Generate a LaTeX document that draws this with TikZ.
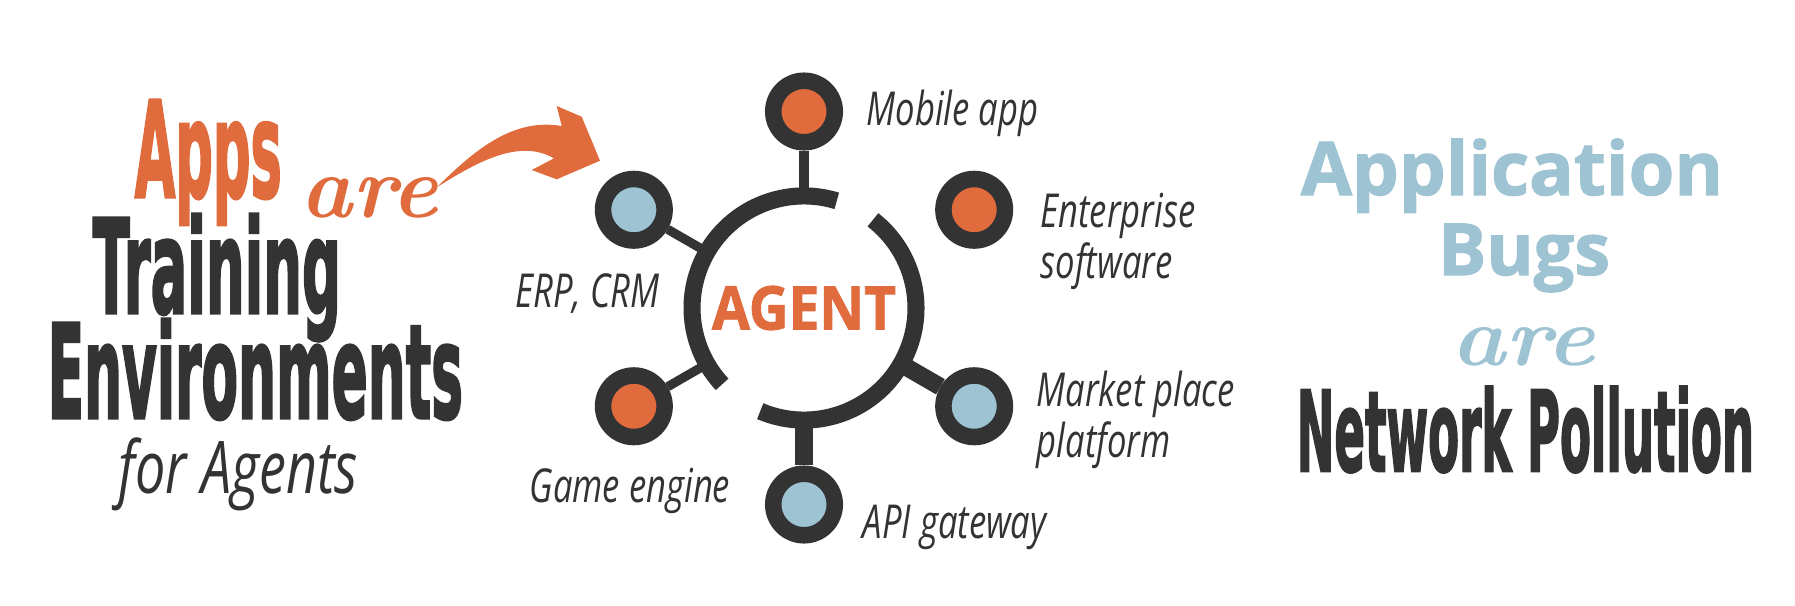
\documentclass[tikz,border=0pt]{standalone}
\usepackage{fontspec}
\usepackage{tikz}
\definecolor{agentorange}{HTML}{E06C3E}
\definecolor{agentblue}{HTML}{9EC3D3}
\definecolor{agentink}{HTML}{333333}
\newfontfamily\headfont[BoldFeatures={FakeBold=2.5}]{DejaVu Sans}
\newfontfamily\labelfont[FakeStretch=0.74]{Open Sans}
\newfontfamily\titlefont[BoldFeatures={FakeBold=1.5}]{Open Sans}
\newcommand{\headword}[3]{\resizebox{#1}{#2}{\smash{#3}\vphantom{E}}}

\begin{document}
\begin{tikzpicture}[x=0.01cm,y=0.01cm,>=stealth]
  \tikzstyle{head}=[font=\headfont\bfseries, text=agentink, inner sep=0, anchor=base west]
  \tikzstyle{script}=[font=\bfseries\itshape\fontsize{26}{26}\selectfont, inner sep=0, anchor=base west]
  \tikzstyle{lbl}=[font=\labelfont\itshape\fontsize{13.3}{13.1}\selectfont, text=agentink, inner sep=0, anchor=base west, align=left]
  \tikzstyle{sat}=[circle, draw=agentink, line width=4.7pt, minimum size=0.615cm, inner sep=0]
  \tikzstyle{ring}=[draw=agentink, line width=4.85pt]
  \tikzstyle{stubthin}=[draw=agentink, line width=2.6pt]
  \tikzstyle{stubthick}=[draw=agentink, line width=5pt]
  \tikzstyle{bugs}=[font=\titlefont\bfseries\fontsize{20.7}{20.7}\selectfont, text=agentblue, inner sep=0, anchor=base]

  \useasboundingbox (0,0) rectangle (1795,605);

  % left headline
  \node[head, text=agentorange] (apps) at (134,408) {\headword{1.47cm}{0.97cm}{Apps}};
  \node[script, text=agentorange] (areapps) at (300,388) {\resizebox{1.37cm}{0.40cm}{are}};
  \node[head] (training) at (92,292) {\headword{2.48cm}{0.95cm}{Training}};
  \node[head] (environments) at (47,187) {\headword{4.15cm}{0.95cm}{Environments}};
  \node[lbl, font=\labelfont\itshape\fontsize{20.7}{20.7}\selectfont] (foragents) at (118,112) {for Agents};

  \fill[agentorange] (436.7,417.7) .. controls (470,450) and (510,488) .. (561.7,479)
    -- (556.7,499) -- (581.7,488.3) -- (600,444.3) -- (556.7,425.7) -- (531.7,435)
    -- (554,446.7) .. controls (520,466) and (480,445) .. (436.7,417.7) -- cycle;

  % hub
  \node[circle, minimum size=2.24cm, inner sep=0, outer sep=0, font=\titlefont\bfseries, text=agentorange] (agent) at (804,297) {\headword{1.84cm}{0.43cm}{AGENT}};
  \foreach \name/\ang/\col in {mobile/90/agentorange, ent/30/agentorange, market/-30/agentblue,
                               api/-90/agentblue, game/210/agentorange, erp/150/agentblue} {
    \node[sat, fill=\col] (\name) at ([shift={(\ang:196.5)}]agent) {};
  }
  \foreach \name in {mobile,erp,game}
    \draw[stubthin] (\name) -- (agent);
  \foreach \name in {market,api}
    \draw[stubthick] (\name) -- (agent);
  \draw[ring] (agent.73) arc[start angle=73, end angle=223, radius=112];
  \draw[ring] (agent.247) arc[start angle=247, end angle=412, radius=112];

  \node[lbl] (mobilelbl) at (866,480) {Mobile app};
  \node[lbl] (entlbl) at (1040,327) {Enterprise\\software};
  \node[lbl] (erplbl) at (515,298) {ERP, CRM};
  \node[lbl] (marketlbl) at (1036,148) {Market place\\platform};
  \node[lbl] (gamelbl) at (529,103) {Game engine};
  \node[lbl] (apilbl) at (862,67) {API gateway};

  % right headline
  \node[bugs] (apptitle) at (1512,410) {\resizebox{4.22cm}{!}{Application}};
  \node[bugs] (bugstitle) at (1524,330) {\resizebox{1.72cm}{!}{Bugs}};
  \node[script, text=agentblue] (arebugs) at (1451,240) {\resizebox{1.43cm}{0.38cm}{are}};
  \node[head] (pollution) at (1296,134) {\headword{4.57cm}{0.81cm}{Network Pollution}};
\end{tikzpicture}
\end{document}
